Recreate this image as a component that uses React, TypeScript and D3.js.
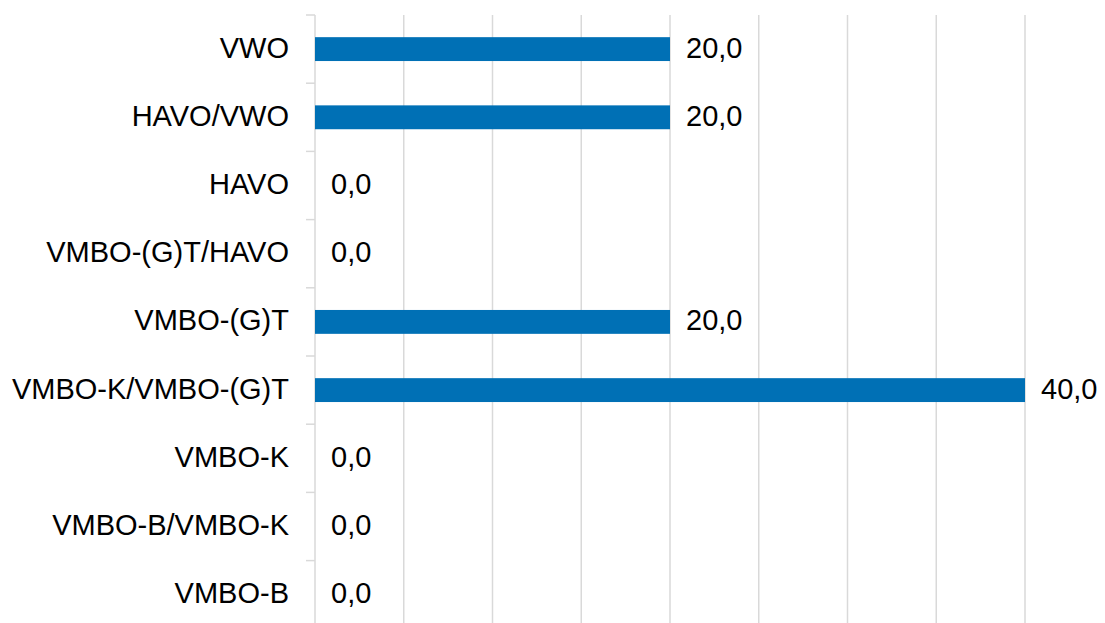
import React from "react";
import * as d3 from "d3";

const categories = [
  "VWO",
  "HAVO/VWO",
  "HAVO",
  "VMBO-(G)T/HAVO",
  "VMBO-(G)T",
  "VMBO-K/VMBO-(G)T",
  "VMBO-K",
  "VMBO-B/VMBO-K",
  "VMBO-B",
];
const values = [20, 20, 0, 0, 20, 40, 0, 0, 0];
const xTicks = [0, 5, 10, 15, 20, 25, 30, 35, 40];

const W = 1105;
const H = 623;
const margin = { top: 15, left: 315, right: 80 };
const rowH = 68.2;

export default function App() {
  const x = d3.scaleLinear().domain([0, 40]).range([margin.left, 1025]);
  const y = d3
    .scaleBand<string>()
    .domain(categories)
    .range([margin.top, margin.top + rowH * categories.length])
    .paddingInner(0.65)
    .paddingOuter(0.325);
  const step = y.step();
  const fmt = (v: number) => v.toFixed(1).replace(".", ",");
  const font = "'Liberation Sans', Arial, sans-serif";

  return (
    <div style={{ position: "absolute", left: 0, top: 0 }}>
      <svg width={W} height={H} style={{ display: "block" }}>
        <rect width={W} height={H} fill="#ffffff" />
        {/* gridlines */}
        {xTicks.slice(1).map((t) => (
          <line
            key={t}
            x1={x(t)}
            x2={x(t)}
            y1={margin.top}
            y2={H}
            stroke="#d9d9d9"
            strokeWidth={1.5}
          />
        ))}
        {/* category axis */}
        <line
          x1={margin.left}
          x2={margin.left}
          y1={margin.top}
          y2={H}
          stroke="#d9d9d9"
          strokeWidth={1.5}
        />
        {d3.range(categories.length + 1).map((i) => (
          <line
            key={i}
            x1={margin.left - 9}
            x2={margin.left}
            y1={margin.top + i * step}
            y2={margin.top + i * step}
            stroke="#d9d9d9"
            strokeWidth={1.5}
          />
        ))}
        {/* bars */}
        {categories.map((c, i) => (
          <rect
            key={c}
            x={x(0)}
            y={y(c)}
            width={x(values[i]) - x(0)}
            height={y.bandwidth()}
            fill="#0070b5"
          />
        ))}
        {/* category labels */}
        {categories.map((c) => (
          <text
            key={c}
            x={margin.left - 26}
            y={(y(c) as number) + y.bandwidth() / 2}
            dy="0.29em"
            textAnchor="end"
            fontFamily={font}
            fontSize={29}
            fill="#000"
          >
            {c}
          </text>
        ))}
        {/* value labels */}
        {categories.map((c, i) => (
          <text
            key={c}
            x={x(values[i]) + 16}
            y={(y(c) as number) + y.bandwidth() / 2}
            dy="0.29em"
            fontFamily={font}
            fontSize={29}
            fill="#000"
          >
            {fmt(values[i])}
          </text>
        ))}
      </svg>
    </div>
  );
}
